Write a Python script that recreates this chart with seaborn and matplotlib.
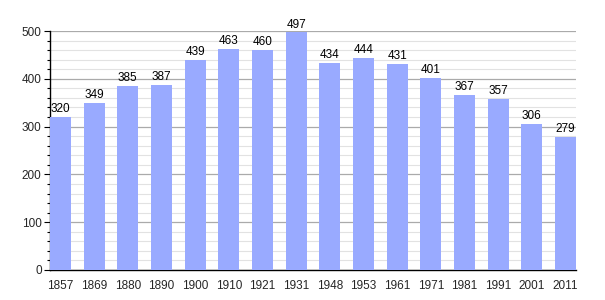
import matplotlib
matplotlib.use("Agg")
import matplotlib.pyplot as plt
import seaborn as sns
import pandas as pd
from matplotlib.ticker import MultipleLocator

years = ["1857", "1869", "1880", "1890", "1900", "1910", "1921", "1931",
         "1948", "1953", "1961", "1971", "1981", "1991", "2001", "2011"]
population = [320, 349, 385, 387, 439, 463, 460, 497,
              434, 444, 431, 401, 367, 357, 306, 279]

df = pd.DataFrame({"year": years, "pop": population})

sns.set_theme(style="white")
plt.rcParams['font.family'] = ['Liberation Sans', 'DejaVu Sans']

fig = plt.figure(figsize=(6.05, 3.0), dpi=100)
ax = fig.add_axes([50/605, 30/300, 526/605, 239/300])

w = 0.624
sns.barplot(data=df, x="year", y="pop", color="#99aaff", saturation=1,
            width=w, ax=ax, zorder=3, linewidth=0, edgecolor="none")
ax.set_xlim(-w/2, len(years) - 1 + w/2)
ax.set_ylim(0, 500)

ax.yaxis.set_major_locator(MultipleLocator(100))
ax.yaxis.set_minor_locator(MultipleLocator(20))
ax.grid(which="major", axis="y", color="#aaaaaa", linewidth=0.9, zorder=0)
ax.grid(which="minor", axis="y", color="#e2e2e2", linewidth=0.8, zorder=0)
ax.set_axisbelow(True)

for s in ["top", "right"]:
    ax.spines[s].set_visible(False)
for s in ["left", "bottom"]:
    ax.spines[s].set_color("black")
    ax.spines[s].set_linewidth(1.0)

ax.tick_params(axis="y", which="major", left=True, length=4, width=0.8,
               color="black", labelsize=8.5, pad=2)
ax.tick_params(axis="y", which="minor", left=True, length=2.5, width=0.8,
               color="black")
ax.tick_params(axis="x", bottom=False, labelsize=8.5, pad=1)
ax.set_xlabel("")
ax.set_ylabel("")

for i, v in enumerate(population):
    ax.text(i, v + 4, str(v), ha="center", va="bottom", fontsize=8.5,
            color="black")

fig.savefig("out.png", dpi=100)
